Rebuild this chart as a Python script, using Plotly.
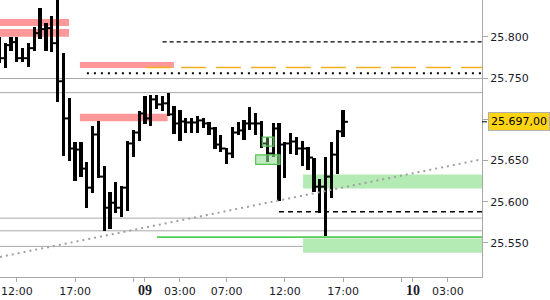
import plotly.graph_objects as go
import pandas as pd

# ---- 30-minute bars (session break 22:00-23:00) ----
session_a = pd.date_range("2025-12-08 10:30", "2025-12-08 21:30", freq="30min")
session_b = pd.date_range("2025-12-08 23:00", "2025-12-09 17:00", freq="30min")
bar_times = list(session_a) + list(session_b)

bar_high = [25.7998, 25.7924, 25.7998, 25.7998, 25.7864, 25.7924, 25.8119, 25.8351, 25.8168, 25.8253,
            25.8600, 25.7803, 25.7255, 25.6731, 25.6719, 25.6487, 25.6914, 25.6974, 25.6439, 25.6122,
            25.6244, 25.6195, 25.6743, 25.6865, 25.7096, 25.7279, 25.7291, 25.7291, 25.7279, 25.7315,
            25.7157, 25.7108, 25.7011, 25.7011, 25.7035, 25.7011, 25.6962, 25.6901, 25.6804, 25.6658,
            25.6901, 25.6962, 25.6987, 25.7145, 25.7072, 25.6974, 25.6780, 25.6950, 25.6950, 25.6731,
            25.6840, 25.6780, 25.6743, 25.6670, 25.6536, 25.6280, 25.6548, 25.6719, 25.6865, 25.7108]
bar_low = [25.7681, 25.7620, 25.7827, 25.7693, 25.7693, 25.7632, 25.7827, 25.7973, 25.7827, 25.7815,
           25.7206, 25.6560, 25.6499, 25.6256, 25.6305, 25.5927, 25.6110, 25.6292, 25.5647, 25.5671,
           25.5866, 25.5817, 25.5890, 25.6548, 25.6743, 25.6938, 25.6914, 25.7121, 25.7096, 25.7035,
           25.6828, 25.6743, 25.6840, 25.6840, 25.6840, 25.6889, 25.6804, 25.6646, 25.6609, 25.6463,
           25.6536, 25.6804, 25.6755, 25.6865, 25.6804, 25.6658, 25.6487, 25.6548, 25.6012, 25.6292,
           25.6585, 25.6572, 25.6439, 25.6390, 25.6122, 25.5866, 25.5586, 25.6049, 25.6341, 25.6780]
bar_close = [25.7742, 25.7900, 25.7937, 25.7742, 25.7742, 25.7864, 25.8046, 25.8095, 25.8107, 25.7924,
             25.7462, 25.7011, 25.6646, 25.6633, 25.6402, 25.6171, 25.6816, 25.6305, 25.5927, 25.5988,
             25.5927, 25.6171, 25.6707, 25.6840, 25.7072, 25.7011, 25.7242, 25.7181, 25.7194, 25.7060,
             25.6950, 25.6974, 25.6962, 25.6962, 25.6987, 25.6950, 25.6889, 25.6694, 25.6646, 25.6585,
             25.6840, 25.6865, 25.6950, 25.6950, 25.6950, 25.6707, 25.6585, 25.6889, 25.6694, 25.6707,
             25.6731, 25.6646, 25.6646, 25.6536, 25.6183, 25.6183, 25.6305, 25.6572, 25.6853, 25.6970]
last_price_text = "25.697,00"

# ---- axis ----
x_range = ["2025-12-08 10:33:30", "2025-12-10 05:55:30"]
y_range = [25.50865, 25.84482]
x_tickvals = ["2025-12-08 12:00", "2025-12-08 17:00", "2025-12-08 23:00", "2025-12-09 00:00",
              "2025-12-09 03:00", "2025-12-09 07:00", "2025-12-09 12:00", "2025-12-09 17:00",
              "2025-12-09 23:00", "2025-12-10 00:00", "2025-12-10 03:00"]
day_style = '<span style="font-family:Liberation Serif;font-size:14px;font-weight:bold">%s</span>'
x_ticktext = ["12:00", "17:00", "", day_style % "09", "03:00", "07:00", "12:00", "17:00",
              "", day_style % "10", "03:00"]
y_tickvals = [25.55, 25.60, 25.65, 25.70, 25.75, 25.80]
y_ticktext = ["25.550", "25.600", "25.650", "", "25.750", "25.800"]

# ---- levels / zones ----
gray_levels = [25.7495, 25.7324, 25.5801, 25.5647, 25.5458]
pink_zones = [  # (start, end, low, high)
    ("2025-12-08 10:00", "2025-12-08 16:29", 25.8132, 25.8217),
    ("2025-12-08 10:00", "2025-12-08 16:29", 25.8001, 25.8095),
    ("2025-12-08 17:25", "2025-12-09 02:29", 25.7624, 25.7697),
    ("2025-12-08 17:25", "2025-12-09 01:57", 25.6978, 25.7068),
]
green_zones = [
    ("2025-12-09 13:34", x_range[1], 25.6162, 25.6329),
    ("2025-12-09 13:34", x_range[1], 25.5382, 25.5553),
]
green_boxes = [
    ("2025-12-09 10:04", "2025-12-09 11:04", 25.6674, 25.6783),
    ("2025-12-09 09:30", "2025-12-09 11:35", 25.6454, 25.6569),
]
green_line = ("2025-12-09 01:02", 25.5570)
dash_top = ("2025-12-09 01:31", 25.7940)
orange_dash = ("2025-12-09 00:05", 25.7629)
dotted_black = ("2025-12-08 18:01", 25.7559)
dash_bottom = ("2025-12-09 11:30", 25.5878)
trend_x = [x_range[0], x_range[1]]
trend_y = [25.5330, 25.6515]

FONT = "DejaVu Sans"
TXT = "#1a1a2a"
GRAY = "#a8a8a8"

fig = go.Figure()

# trend line
fig.add_trace(go.Scatter(x=trend_x, y=trend_y, mode="lines",
                         line=dict(color="#a0a0a0", width=2, dash="2px,4px"),
                         hoverinfo="skip"))

# high-low bars
fig.add_trace(go.Bar(x=bar_times, y=[h - l for h, l in zip(bar_high, bar_low)], base=bar_low,
                     width=1000000, marker=dict(color="#000000", line=dict(width=0)),
                     hoverinfo="skip"))
# close ticks
tick_x = [t + pd.Timedelta(minutes=12.6) for t in bar_times]
fig.add_trace(go.Scatter(x=tick_x, y=bar_close, mode="markers",
                         marker=dict(symbol="line-ew", size=3.5,
                                     line=dict(color="#000000", width=2)),
                         hoverinfo="skip"))

shapes = []
for x0, x1, lo, hi in pink_zones:
    shapes.append(dict(type="rect", xref="x", yref="y", x0=x0, x1=x1, y0=lo, y1=hi,
                       fillcolor="#ff9999", line=dict(width=0), layer="below"))
for x0, x1, lo, hi in green_zones:
    shapes.append(dict(type="rect", xref="x", yref="y", x0=x0, x1=x1, y0=lo, y1=hi,
                       fillcolor="#b4eab4", line=dict(width=0), layer="below"))
shapes.append(dict(type="rect", xref="x", yref="y", x0=green_boxes[0][0], x1=green_boxes[0][1],
                   y0=green_boxes[0][2], y1=green_boxes[0][3], fillcolor="rgba(180,234,180,0.3)",
                   line=dict(color="#55c455", width=1.2), layer="above"))
shapes.append(dict(type="rect", xref="x", yref="y", x0=green_boxes[1][0], x1=green_boxes[1][1],
                   y0=green_boxes[1][2], y1=green_boxes[1][3], fillcolor="rgba(150,222,150,0.6)",
                   line=dict(color="#55c455", width=1.2), layer="above"))
for lv in gray_levels:
    shapes.append(dict(type="line", xref="paper", yref="y", x0=0, x1=1, y0=lv, y1=lv,
                       line=dict(color=GRAY, width=1), layer="below"))
shapes.append(dict(type="line", xref="x", yref="y", x0=green_line[0], x1=x_range[1],
                   y0=green_line[1], y1=green_line[1], line=dict(color="#55cc55", width=1.6)))
shapes.append(dict(type="line", xref="x", yref="y", x0=dash_top[0], x1=x_range[1],
                   y0=dash_top[1], y1=dash_top[1], line=dict(color="#000000", width=1.4, dash="4px,3px")))
shapes.append(dict(type="line", xref="x", yref="y", x0=orange_dash[0], x1=x_range[1],
                   y0=orange_dash[1], y1=orange_dash[1],
                   line=dict(color="#f5b020", width=1.6, dash="25px,10px"), layer="below"))
shapes.append(dict(type="line", xref="x", yref="y", x0=dotted_black[0], x1=x_range[1],
                   y0=dotted_black[1], y1=dotted_black[1],
                   line=dict(color="#000000", width=2, dash="2px,5px")))
shapes.append(dict(type="line", xref="x", yref="y", x0=dash_bottom[0], x1=x_range[1],
                   y0=dash_bottom[1], y1=dash_bottom[1],
                   line=dict(color="#000000", width=1.4, dash="5px,4px")))
# last price tick on the axis
shapes.append(dict(type="line", xref="paper", yref="y", x0=1, x1=1 + 5 / 482,
                   y0=bar_close[-1], y1=bar_close[-1], line=dict(color="#000000", width=1)))

fig.update_layout(
    width=550, height=300,
    margin=dict(l=0, r=68, t=0, b=23),
    paper_bgcolor="white", plot_bgcolor="white",
    showlegend=False, barmode="overlay", bargap=0,
    shapes=shapes,
    font=dict(family=FONT, size=11, color=TXT),
    xaxis=dict(type="date", range=x_range,
               rangebreaks=[dict(bounds=[22, 23], pattern="hour")],
               tickmode="array", tickvals=x_tickvals, ticktext=x_ticktext,
               showgrid=False, zeroline=False, showline=True, linecolor=GRAY, linewidth=1,
               ticks="outside", ticklen=4, tickcolor=GRAY,
               tickfont=dict(family=FONT, size=11, color=TXT)),
    yaxis=dict(side="right", range=y_range, tickmode="array",
               tickvals=y_tickvals, ticktext=y_ticktext,
               showgrid=False, zeroline=False, showline=True, linecolor=GRAY, linewidth=1,
               ticks="outside", ticklen=5, tickcolor=GRAY,
               tickfont=dict(family=FONT, size=11, color=TXT)),
    annotations=[dict(xref="paper", yref="y", x=1, y=bar_close[-1], xanchor="left",
                      xshift=6, yanchor="middle", text=last_price_text, showarrow=False,
                      bgcolor="#ffd414", bordercolor="#b0b0b0", borderwidth=1, borderpad=2,
                      font=dict(family=FONT, size=11, color="#000000"))],
)

fig.write_html("out.html")
